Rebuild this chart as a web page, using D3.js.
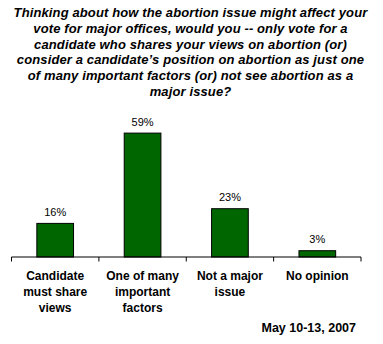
<!DOCTYPE html>
<html><head><meta charset="utf-8">
<script src="https://cdn.jsdelivr.net/npm/d3@7"></script>
<style>
html,body{margin:0;padding:0;background:#fff;}
svg{display:block;font-family:Arial,"Liberation Sans",sans-serif;}
</style></head>
<body>
<svg id="chart" width="383" height="344"></svg>
<script>
const titleLines = [
  "Thinking about how the abortion issue might affect your",
  "vote for major offices, would you -- only vote for a",
  "candidate who shares your views on abortion (or)",
  "consider a candidate\u2019s position on abortion as just one",
  "of many important factors (or) not see abortion as a",
  "major issue?"
];
const categories = ["Candidate must share views","One of many important factors","Not a major issue","No opinion"];
const categoryLines = [["Candidate","must share","views"],["One of many","important","factors"],["Not a major","issue"],["No opinion"]];
const values = [16, 59, 23, 3];
const dateLabel = "May 10-13, 2007";

const svg = d3.select("#chart");
const baseY = 257, axisL = 11.5, axisR = 361;

const x = d3.scaleBand().domain(categories).range([axisL, axisR]).padding(0);
const y = d3.scaleLinear().domain([0, 60]).range([baseY, baseY - 126]);
const barFrac = 0.42;

// title
svg.append("text")
  .attr("x", 190.5).attr("text-anchor", "middle")
  .style("font-size", "13px").style("font-weight", "bold").style("font-style", "italic")
  .style("letter-spacing", "0.12px")
  .selectAll("tspan").data(titleLines).join("tspan")
  .attr("x", 190.5).attr("y", (d, i) => 16.7 + i * 15.9).text(d => d);

// bars
const bw = x.bandwidth() * barFrac;
svg.selectAll("rect.bar").data(values).join("rect")
  .attr("class", "bar")
  .attr("x", (d, i) => x(categories[i]) + x.bandwidth() / 2 - bw / 2)
  .attr("y", d => y(d))
  .attr("width", bw)
  .attr("height", d => baseY - y(d))
  .attr("fill", "#006600")
  .attr("stroke", "#000").attr("stroke-width", 1);

// value labels
svg.selectAll("text.val").data(values).join("text")
  .attr("class", "val")
  .attr("x", (d, i) => x(categories[i]) + x.bandwidth() / 2)
  .attr("y", d => y(d) - 7.5)
  .attr("text-anchor", "middle")
  .style("font-size", "11px")
  .text(d => d + "%");

// axis
svg.append("line").attr("x1", axisL).attr("x2", axisR).attr("y1", baseY).attr("y2", baseY)
  .attr("stroke", "#000").attr("stroke-width", 1);
const tickPos = categories.map(c => x(c)).concat([axisR]);
svg.selectAll("line.tick").data(tickPos).join("line")
  .attr("class", "tick")
  .attr("x1", d => d).attr("x2", d => d)
  .attr("y1", baseY).attr("y2", baseY + 4.5)
  .attr("stroke", "#000").attr("stroke-width", 1);

// category labels
categories.forEach((c, i) => {
  svg.append("text")
    .attr("text-anchor", "middle")
    .style("font-size", "12px").style("font-weight", "bold")
    .selectAll("tspan").data(categoryLines[i]).join("tspan")
    .attr("x", x(c) + x.bandwidth() / 2)
    .attr("y", (d, j) => 280 + j * 16)
    .text(d => d);
});

// date
svg.append("text").attr("x", 356).attr("y", 331.5).attr("text-anchor", "end")
  .style("font-size", "12.5px").style("font-weight", "bold")
  .text(dateLabel);
</script>
</body></html>
